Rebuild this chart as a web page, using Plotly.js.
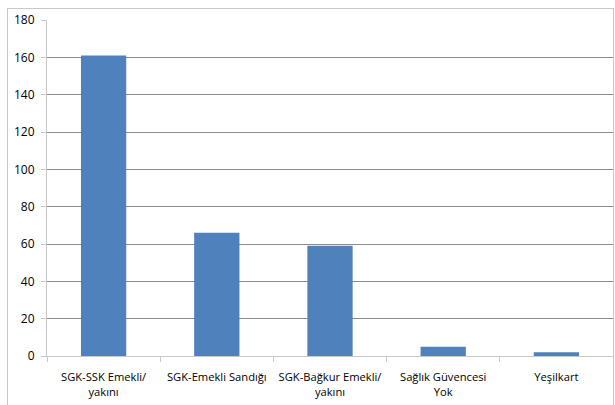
<!DOCTYPE html>
<html><head><meta charset="utf-8">
<script src="https://cdn.plot.ly/plotly-3.0.1.min.js"></script>
<style>
html,body{margin:0;padding:0;background:#fff;}
#box{position:absolute;left:7px;top:8px;width:607px;height:400px;border:1px solid #c8c8c8;box-sizing:border-box;}
#chart{width:605px;height:398px;}
</style></head><body>
<div id="box"><div id="chart"></div></div>
<script>
const categories = ["SGK-SSK Emekli/<br>yakını", "SGK-Emekli Sandığı", "SGK-Bağkur Emekli/<br>yakını", "Sağlık Güvencesi<br>Yok", "Yeşilkart"];
const values = [161, 66, 59, 5, 2];
const yTicks = [0, 20, 40, 60, 80, 100, 120, 140, 160, 180];

Plotly.newPlot('chart', [{
  type: 'bar', x: categories, y: values,
  marker: {color: '#4f81bd'}
}], {
  width: 605, height: 398,
  margin: {l: 39, r: 0, t: 11, b: 51},
  paper_bgcolor: '#fff', plot_bgcolor: '#fff',
  bargap: 0.6,
  showlegend: false,
  font: {family: 'Open Sans, sans-serif', size: 12, color: '#000'},
  xaxis: {type: 'category', tickson: 'boundaries', ticks: 'outside', ticklen: 5, tickcolor: '#c8c8c8', tickangle: 0,
          showline: true, linecolor: '#c8c8c8', showgrid: false, tickfont: {size: 11.2}, ticklabelstandoff: 11},
  yaxis: {range: [0, 180], tickvals: yTicks, showgrid: true, gridcolor: '#8c8c8c', gridwidth: 1,
          showline: true, linecolor: '#c8c8c8', zeroline: false, ticks: 'outside', ticklen: 5, tickcolor: '#c8c8c8',
          tickfont: {size: 12}, ticklabelstandoff: 4}
}, {staticPlot: true});
</script></body></html>
